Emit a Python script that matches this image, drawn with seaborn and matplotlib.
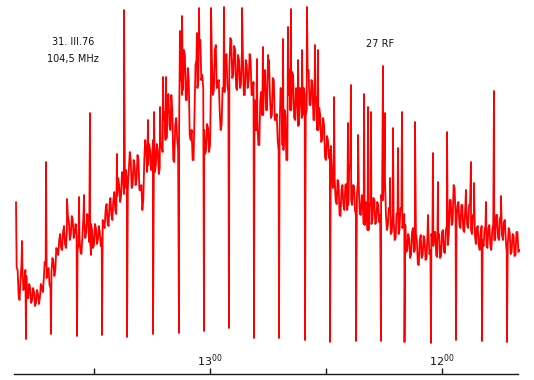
import numpy as np
import pandas as pd
import matplotlib
matplotlib.use("Agg")
import matplotlib.pyplot as plt
import seaborn as sns

# Radio record, 31.III.76, 104.5 MHz.  Time in minutes of the day (780 = 13:00),
# flux in arbitrary chart units.
sample_step = 0.5
sample_start = 830.0
level = [
    82, 55, 70, 80, 65, 74, 52, 62, 50, 58, 47, 56, 52, 63, 70, 85, 80, 65, 78, 88,
    80, 100, 110, 102, 118, 106, 120, 128, 115, 130, 118, 114, 105, 98, 114, 128, 118, 132, 110, 120,
    105, 122, 110, 118, 112, 125, 140, 128, 145, 135, 150, 140, 154, 165, 154, 175, 162, 170, 180, 190,
    165, 185, 170, 190, 160, 140, 190, 200, 185, 200, 190, 200, 185, 200, 182, 202, 230, 210, 250, 225,
    255, 190, 225, 212, 218, 290, 260, 295, 250, 270, 210, 190, 240, 290, 270, 310, 275, 220, 200, 222,
    205, 290, 260, 305, 265, 240, 225, 260, 290, 265, 280, 310, 275, 300, 260, 290, 265, 295, 255, 285,
    270, 290, 255, 250, 220, 205, 250, 235, 275, 240, 285, 255, 235, 270, 230, 210, 220, 260, 200, 235,
    190, 280, 240, 275, 230, 255, 225, 260, 235, 255, 240, 280, 245, 265, 230, 250, 220, 235, 210, 225,
    190, 210, 200, 185, 165, 150, 170, 135, 160, 145, 165, 140, 185, 150, 165, 140, 155, 160, 135, 150,
    125, 145, 120, 145, 130, 150, 128, 145, 135, 150, 180, 135, 125, 138, 118, 130, 112, 138, 120, 140,
    128, 125, 100, 112, 95, 122, 100, 110, 85, 115, 95, 110, 92, 115, 100, 110, 118, 95, 115, 92,
    118, 98, 120, 105, 150, 125, 165, 135, 145, 125, 145, 120, 140, 125, 145, 120, 135, 115, 122, 105,
    118, 110, 120, 105, 122, 105, 120, 110, 135, 112, 132, 115, 128, 110, 105, 118, 98, 115, 95, 118,
    100,
]
# readings half-way between the samples above (pen jitter)
level_mid = [
    80, 50, 86, 60, 80, 52, 66, 47, 62, 44, 60, 46, 66, 58, 88, 72, 82, 62, 92, 74,
    102, 95, 116, 100, 124, 102, 134, 110, 134, 112, 126, 100, 112, 96, 132, 112, 136, 108, 126, 102,
    126, 106, 124, 104, 130, 122, 146, 124, 152, 130, 158, 136, 172, 148, 178, 156, 180, 162, 198, 162,
    190, 165, 195, 160, 165, 150, 210, 178, 206, 180, 210, 178, 206, 176, 208, 198, 238, 212, 256, 220,
    240, 188, 232, 200, 270, 255, 300, 250, 282, 215, 220, 190, 285, 262, 308, 270, 262, 196, 226, 198,
    265, 255, 300, 262, 270, 220, 262, 258, 296, 258, 312, 272, 304, 262, 295, 262, 298, 255, 290, 262,
    296, 255, 268, 220, 228, 205, 258, 235, 280, 240, 290, 232, 272, 230, 236, 200, 262, 205, 240, 190,
    255, 240, 278, 232, 262, 224, 262, 232, 262, 235, 280, 245, 270, 230, 255, 220, 242, 208, 232, 192,
    214, 192, 204, 162, 170, 146, 166, 134, 165, 140, 166, 145, 182, 145, 164, 135, 168, 136, 155, 126,
    148, 120, 146, 126, 152, 126, 148, 128, 155, 150, 170, 120, 142, 116, 134, 110, 136, 116, 142, 122,
    136, 98, 116, 92, 118, 98, 116, 86, 110, 92, 114, 90, 116, 96, 116, 104, 118, 93, 116, 94,
    120, 97, 124, 115, 150, 128, 162, 128, 148, 122, 145, 118, 145, 122, 145, 116, 136, 106, 124, 100,
    124, 104, 124, 102, 125, 100, 126, 110, 135, 110, 134, 110, 130, 96, 122, 96, 116, 94, 118, 98,
]

# calibration dips
dip_time = [827.58, 821.12, 814.39, 810.77, 807.93, 801.46, 794.74, 788.02, 781.55, 775.09,
            768.62, 762.16, 755.43, 748.97, 742.24, 735.78, 729.70, 722.85, 716.38, 709.66, 703.20]
dip_flux = [11, 16, 14, 95, 15, 13, 16, 17, 19, 22,
            12, 12, 10, 8, 9, 9, 8, 7, 10, 9, 8]

# short bursts
spike_time = [830.17, 828.62, 822.41, 816.98, 813.88, 812.58, 811.03, 804.05, 802.24, 796.03,
              794.48, 792.93, 792.15, 791.38, 787.76, 787.24, 783.36, 782.84, 779.74, 776.38,
              771.72, 767.85, 766.29, 765.00, 761.12, 759.83, 759.05, 757.24, 756.21, 754.92,
              752.85, 752.07, 747.93, 744.31, 743.54, 741.73, 740.18, 739.14, 738.37, 735.26,
              734.75, 733.45, 732.68, 731.38, 730.35, 726.99, 723.63, 722.33, 721.04, 718.71,
              713.80, 712.51, 711.73, 708.63, 706.56, 704.75]
spike_flux = [148, 109, 188, 151, 153, 155, 237, 196, 340, 230,
              238, 243, 273, 273, 319, 334, 317, 342, 342, 343,
              342, 291, 303, 295, 311, 323, 341, 290, 300, 343,
              305, 300, 253, 227, 265, 215, 256, 243, 238, 284,
              237, 172, 222, 202, 238, 228, 135, 197, 168, 218,
              160, 188, 167, 148, 259, 154]

tick_time = [810, 780, 750, 720]
tick_text = ["", "$13^{00}$", "", "$12^{00}$"]

sample_time = sample_start - sample_step * np.arange(len(level))
mid_time = sample_start - sample_step / 2 - sample_step * np.arange(len(level_mid))
trace = pd.concat([
    pd.DataFrame({"time": sample_time, "flux": level}),
    pd.DataFrame({"time": mid_time, "flux": level_mid}),
    pd.DataFrame({"time": dip_time, "flux": dip_flux}),
    pd.DataFrame({"time": spike_time, "flux": spike_flux}),
]).sort_values("time", ascending=False).reset_index(drop=True)

sns.set_style("white")
plt.rcParams["font.family"] = ["DejaVu Sans"]

fig = plt.figure(figsize=(5.34, 3.80), dpi=100)
ax = fig.add_axes([0, 0, 1, 1])
sns.lineplot(data=trace, x="time", y="flux", sort=False, estimator=None,
             color="#ff0000", linewidth=1.3, ax=ax)

ax.set_xlim(834.31, 696.21)
ax.set_ylim(-30, 350)
ax.set_xlabel("")
ax.set_ylabel("")
ax.set_yticks([])
for side in ["top", "left", "right"]:
    ax.spines[side].set_visible(False)
ax.spines["bottom"].set_position(("data", -23.7))
ax.spines["bottom"].set_bounds(830.79, 700.35)
ax.spines["bottom"].set_color("#1a1a1a")
ax.spines["bottom"].set_linewidth(1.0)
ax.set_xticks(tick_time)
ax.set_xticklabels(tick_text)
ax.tick_params(axis="x", bottom=True, direction="in", length=4, width=1, color="#1a1a1a",
               pad=-15.5, labelsize=8, labelcolor="#111111")

fig.text(73 / 534, 1 - 42 / 380, "31. III.76", ha="center", va="center", fontsize=7, color="#111111")
fig.text(73 / 534, 1 - 59 / 380, "104,5 MHz", ha="center", va="center", fontsize=7, color="#111111")
fig.text(380 / 534, 1 - 44 / 380, "27 RF", ha="center", va="center", fontsize=7, color="#111111")

fig.savefig("out.png", dpi=100)
